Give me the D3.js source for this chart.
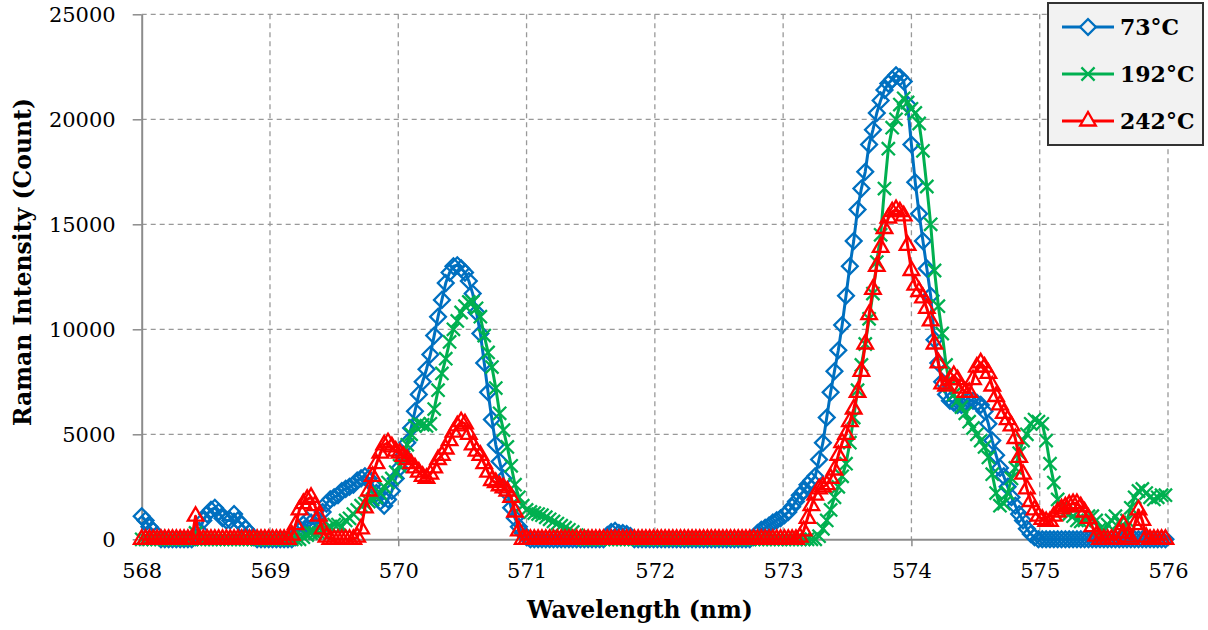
<!DOCTYPE html>
<html>
<head>
<meta charset="utf-8">
<script src="https://cdn.jsdelivr.net/npm/d3@7/dist/d3.min.js"></script>
<style>
  html, body { margin: 0; padding: 0; background: #fff; }
  svg { display: block; }
</style>
</head>
<body>
<div id="chart"></div>
<script>
/* Raman spectra at three temperatures, D3 line + marker chart */

// wavelength grid (nm), one row per nanometre
const wavelength = [
  568.00,568.03,568.06,568.09,568.12,568.15,568.18,568.21,568.24,568.27,568.30,568.33,568.36,568.39,568.42,568.45,568.48,568.51,568.54,568.57,568.60,568.63,568.66,568.69,568.72,568.75,568.78,568.81,568.84,568.87,568.90,568.93,568.96,568.99,
  569.02,569.05,569.08,569.11,569.14,569.17,569.20,569.23,569.26,569.29,569.32,569.35,569.38,569.41,569.44,569.47,569.50,569.53,569.56,569.59,569.62,569.65,569.68,569.71,569.74,569.77,569.80,569.83,569.86,569.89,569.92,569.95,569.98,
  570.01,570.04,570.07,570.10,570.13,570.16,570.19,570.22,570.25,570.28,570.31,570.34,570.37,570.40,570.43,570.46,570.49,570.52,570.55,570.58,570.61,570.64,570.67,570.70,570.73,570.76,570.79,570.82,570.85,570.88,570.91,570.94,570.97,
  571.00,571.03,571.06,571.09,571.12,571.15,571.18,571.21,571.24,571.27,571.30,571.33,571.36,571.39,571.42,571.45,571.48,571.51,571.54,571.57,571.60,571.63,571.66,571.69,571.72,571.75,571.78,571.81,571.84,571.87,571.90,571.93,571.96,571.99,
  572.02,572.05,572.08,572.11,572.14,572.17,572.20,572.23,572.26,572.29,572.32,572.35,572.38,572.41,572.44,572.47,572.50,572.53,572.56,572.59,572.62,572.65,572.68,572.71,572.74,572.77,572.80,572.83,572.86,572.89,572.92,572.95,572.98,
  573.01,573.04,573.07,573.10,573.13,573.16,573.19,573.22,573.25,573.28,573.31,573.34,573.37,573.40,573.43,573.46,573.49,573.52,573.55,573.58,573.61,573.64,573.67,573.70,573.73,573.76,573.79,573.82,573.85,573.88,573.91,573.94,573.97,
  574.00,574.03,574.06,574.09,574.12,574.15,574.18,574.21,574.24,574.27,574.30,574.33,574.36,574.39,574.42,574.45,574.48,574.51,574.54,574.57,574.60,574.63,574.66,574.69,574.72,574.75,574.78,574.81,574.84,574.87,574.90,574.93,574.96,574.99,
  575.02,575.05,575.08,575.11,575.14,575.17,575.20,575.23,575.26,575.29,575.32,575.35,575.38,575.41,575.44,575.47,575.50,575.53,575.56,575.59,575.62,575.65,575.68,575.71,575.74,575.77,575.80,575.83,575.86,575.89,575.92,575.95,575.98
];

// Raman intensity (count) at 73 °C
const int73 = [
  1100,900,600,400,200,0,0,0,0,0,0,0,0,0,100,400,900,1200,1400,1500,1300,1000,900,900,1200,900,700,500,300,100,0,0,0,0,
  0,0,0,0,0,0,100,400,700,900,800,700,900,1300,1700,1900,2000,2100,2300,2400,2500,2600,2800,2900,3000,2900,2600,2200,1800,1600,1900,2300,2900,
  3400,4000,4600,5300,6100,6900,7500,8100,8800,9700,10600,11400,12200,12700,13000,13050,12900,12700,12300,11700,10800,9800,8400,7000,5700,4500,3700,2900,2200,1500,1000,600,300,
  100,0,0,0,0,0,0,0,0,0,0,0,0,0,0,0,0,0,0,0,0,200,350,400,300,300,250,150,0,0,0,0,0,0,
  0,0,0,0,0,0,0,0,0,0,0,0,0,0,0,0,0,0,0,0,0,0,0,0,0,100,300,450,550,650,800,900,1000,
  1150,1300,1550,1800,2100,2300,2600,2800,3000,3800,4600,5800,7000,8000,9000,10200,11600,13000,14200,15700,16700,17500,18800,19500,20300,20900,21400,21700,21900,22100,22000,21800,20700,
  18800,17000,15500,14200,12900,11600,9500,8400,7500,6900,6600,6500,6400,6400,6500,6600,6600,6500,6400,6100,5500,4700,4000,3400,3000,2500,2000,1600,1200,900,500,250,100,0,
  0,0,0,0,0,0,0,0,0,0,0,0,0,0,0,0,0,0,0,0,0,0,0,0,0,0,0,0,0,0,0,0,0
];

// Raman intensity (count) at 192 °C
const int192 = [
  0,0,0,0,0,0,0,0,0,0,0,0,0,0,300,0,0,0,0,0,0,0,0,0,0,0,0,0,0,0,0,0,0,0,
  0,0,0,0,0,0,0,0,100,200,300,300,300,400,500,600,700,700,600,900,1000,1200,1400,1600,1700,1800,1900,2000,2200,2500,2700,2900,3200,
  3500,3900,4500,5000,5400,5500,5450,5400,5500,6200,7100,7900,8600,9400,10000,10400,10800,11100,11300,11300,11000,10600,9700,8900,8200,7200,6000,5200,4400,3500,2600,2000,1600,
  1400,1300,1250,1200,1150,1050,950,850,750,650,550,450,350,200,100,0,0,0,0,0,0,0,0,0,0,0,0,0,0,0,0,0,0,0,
  0,0,0,0,0,0,0,0,0,0,0,0,0,0,0,0,0,0,0,0,0,0,0,0,0,0,0,0,0,0,0,0,0,
  0,0,0,0,0,0,0,0,0,150,500,900,1400,2000,2500,3000,3600,4600,5800,7100,8300,9300,10500,11700,13200,14500,16700,18600,19600,20000,20700,21000,20800,
  20500,20300,19800,18500,16800,15000,12800,11100,9800,8300,7300,6900,6600,6300,6000,5600,5300,5000,4700,4400,3900,3100,2200,1600,1700,2200,2900,3400,4100,4700,5000,5500,5700,5600,
  5500,4700,3600,2700,1900,1500,1300,1200,1100,900,850,900,1100,1100,900,500,400,700,900,1100,800,500,900,1500,2000,2300,2400,2200,2000,1900,2000,2100,2100
];

// Raman intensity (count) at 242 °C
const int242 = [
  0,0,0,0,0,0,0,0,0,0,0,0,0,0,1100,0,0,0,0,0,0,0,0,0,0,0,0,0,0,0,0,0,0,0,
  0,0,0,0,0,200,700,1400,1700,1900,2000,1600,1100,500,100,0,0,0,0,0,0,0,100,500,1500,2300,3000,3600,4100,4500,4600,4400,4200,
  4100,3950,3800,3600,3400,3200,3000,2900,3100,3400,3800,4000,4300,4700,5100,5400,5600,5500,5000,4500,4200,4000,3600,3200,2800,2700,2550,2450,2300,2000,1300,400,0,
  0,0,0,0,0,0,0,0,0,0,0,0,0,0,0,0,0,0,0,0,0,0,0,0,0,0,0,0,0,0,0,0,0,0,
  0,0,0,0,0,0,0,0,0,0,0,0,0,0,0,0,0,0,0,0,0,0,0,0,0,0,0,0,0,0,0,0,0,
  0,0,0,0,100,400,1000,1600,2100,2400,2500,2600,2900,3300,4000,4600,5000,5600,6200,7000,8000,9300,10700,11900,13000,13900,14800,15300,15600,15700,15600,15400,14000,
  12800,12100,11800,11500,11000,10400,9300,8400,7400,7300,7600,7800,7600,7200,7000,7000,7600,8200,8400,8200,7900,7300,6800,6400,6000,5700,5400,4800,3900,3100,2400,1800,1400,1100,
  950,850,850,1100,1300,1450,1550,1650,1700,1700,1550,1300,1000,600,150,0,0,0,0,0,300,700,100,0,700,1400,900,100,0,0,0,0,0
];

const seriesNames = ['73°C', '192°C', '242°C'];
const xTicks = [568, 569, 570, 571, 572, 573, 574, 575, 576];
const yTicks = [0, 5000, 10000, 15000, 20000, 25000];

(function() {
    const width = 1208, height = 630;
    const plot = { left: 141.7, right: 1168, top: 14.3, bottom: 539.3 };
    const serif = '"DejaVu Serif", serif';

    const svg = d3.select('#chart').append('svg')
        .attr('width', width)
        .attr('height', height);

    const x = d3.scaleLinear().domain([568, 576]).range([plot.left, plot.right]);
    const y = d3.scaleLinear().domain([0, 25000]).range([plot.bottom, plot.top]);

    // dashed gridlines
    const grid = svg.append('g');
    grid.selectAll('.hg')
        .data(yTicks.filter(d => d > 0))
        .enter().append('line')
        .attr('x1', plot.left).attr('x2', plot.right)
        .attr('y1', d => y(d)).attr('y2', d => y(d))
        .attr('stroke', '#999').attr('stroke-width', 1.3)
        .attr('stroke-dasharray', '5,4');
    grid.selectAll('.vg')
        .data(xTicks.filter(d => d > 568))
        .enter().append('line')
        .attr('y1', plot.top).attr('y2', plot.bottom)
        .attr('x1', d => x(d)).attr('x2', d => x(d))
        .attr('stroke', '#999').attr('stroke-width', 1.3)
        .attr('stroke-dasharray', '5,4');

    // axes
    const yAxis = svg.append('g')
        .attr('transform', `translate(${plot.left},0)`)
        .call(d3.axisLeft(y).tickValues(yTicks).tickFormat(d3.format('d'))
            .tickSize(9).tickSizeOuter(0).tickPadding(17));
    const xAxis = svg.append('g')
        .attr('transform', `translate(0,${plot.bottom})`)
        .call(d3.axisBottom(x).tickValues(xTicks).tickFormat(d3.format('d'))
            .tickSize(7).tickSizeOuter(0).tickPadding(17));

    [xAxis, yAxis].forEach(function(a) {
        a.select('.domain').attr('stroke', '#8c8c8c').attr('stroke-width', 2);
        a.selectAll('.tick line').attr('stroke', '#8c8c8c').attr('stroke-width', 1.5);
        a.selectAll('.tick text')
            .attr('fill', '#000')
            .attr('font-family', serif)
            .attr('font-size', '21px');
    });

    // axis titles
    svg.append('text')
        .attr('x', 640).attr('y', 618)
        .attr('text-anchor', 'middle')
        .attr('font-family', serif)
        .attr('font-weight', 'bold')
        .attr('font-size', '23.5px')
        .text('Wavelength (nm)');
    svg.append('text')
        .attr('transform', 'translate(31,262) rotate(-90)')
        .attr('text-anchor', 'middle')
        .attr('font-family', serif)
        .attr('font-weight', 'bold')
        .attr('font-size', '23.5px')
        .text('Raman Intensity (Count)');

    // marker shapes
    const xSym = d3.symbolX || {
        draw(ctx, size) {
            const r = Math.sqrt(size) * 0.62;
            ctx.moveTo(-r, -r); ctx.lineTo(r, r);
            ctx.moveTo(-r, r); ctx.lineTo(r, -r);
        }
    };
    const styles = [
        { color: '#0070c0', sym: d3.symbolSquare, size: 125, rot: 45 },
        { color: '#00b050', sym: xSym, size: 115, rot: 0 },
        { color: '#ff0000', sym: d3.symbolTriangle, size: 105, rot: 0 }
    ];
    const seriesValues = [int73, int192, int242];

    const line = d3.line()
        .x(d => x(d[0]))
        .y(d => y(d[1]));

    const plotG = svg.append('g');
    seriesValues.forEach(function(vals, k) {
        const st = styles[k];
        const pts = wavelength.map((w, i) => [w, vals[i]]);
        const g = plotG.append('g');
        g.append('path')
            .datum(pts)
            .attr('d', line)
            .attr('fill', 'none')
            .attr('stroke', st.color)
            .attr('stroke-width', 3)
            .attr('stroke-linejoin', 'round');
        g.selectAll('.m')
            .data(pts)
            .enter().append('path')
            .attr('d', d3.symbol().type(st.sym).size(st.size))
            .attr('transform', d => `translate(${x(d[0])},${y(d[1])}) rotate(${st.rot})`)
            .attr('fill', 'none')
            .attr('stroke', st.color)
            .attr('stroke-width', 2.3);
    });

    // legend
    const legend = svg.append('g');
    legend.append('rect')
        .attr('x', 1048).attr('y', 3)
        .attr('width', 155).attr('height', 142)
        .attr('fill', '#f2f2f2')
        .attr('stroke', '#333')
        .attr('stroke-width', 2);
    seriesNames.forEach(function(name, k) {
        const st = styles[k];
        const ly = 27 + k * 47;
        legend.append('line')
            .attr('x1', 1062).attr('x2', 1114)
            .attr('y1', ly).attr('y2', ly)
            .attr('stroke', st.color).attr('stroke-width', 3);
        legend.append('path')
            .attr('d', d3.symbol().type(st.sym).size(st.size))
            .attr('transform', `translate(1088,${ly}) rotate(${st.rot})`)
            .attr('fill', '#f2f2f2')
            .attr('stroke', st.color)
            .attr('stroke-width', 2.3);
        legend.append('text')
            .attr('x', 1120).attr('y', ly + 8)
            .attr('font-family', serif)
            .attr('font-weight', 'bold')
            .attr('font-size', '22px')
            .text(name);
    });
})();
</script>
</body>
</html>
